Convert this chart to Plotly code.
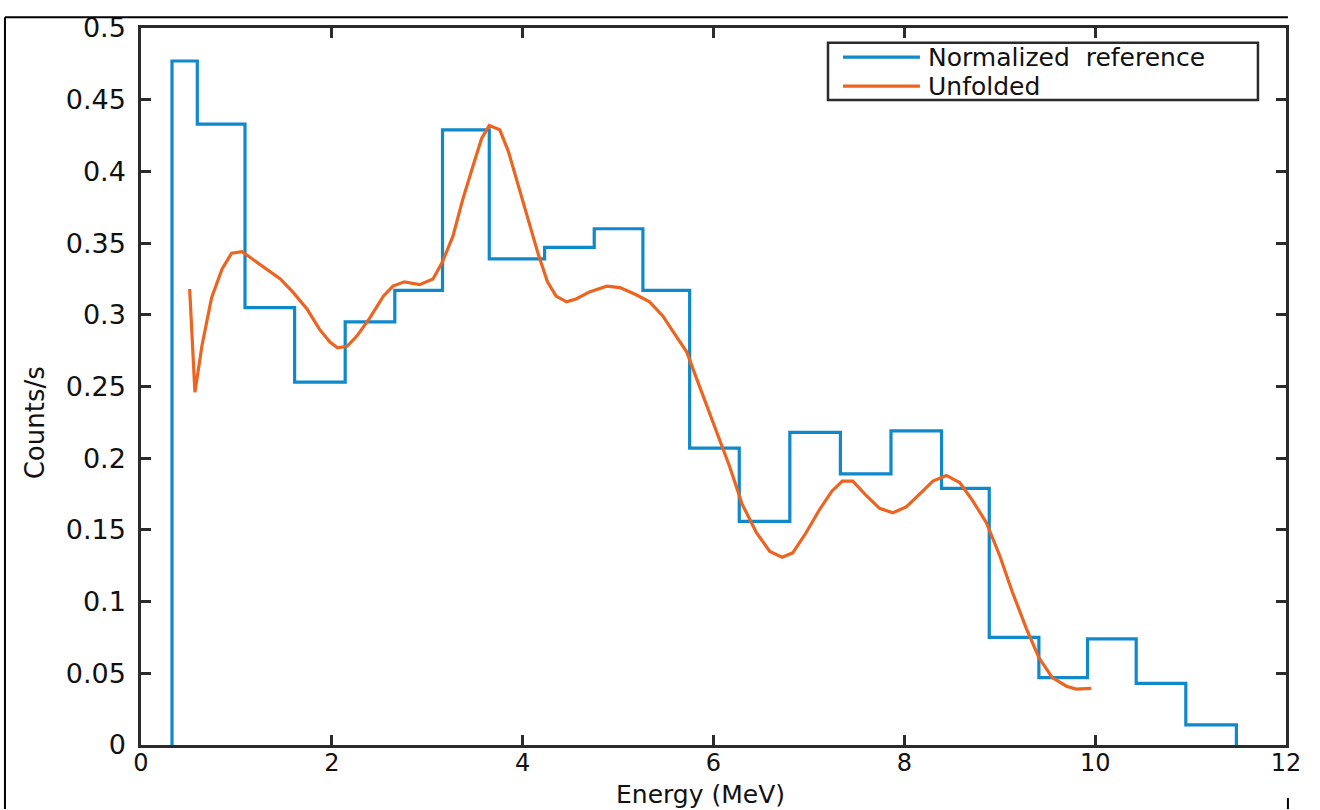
import plotly.graph_objects as go

# Normalized reference histogram (bin edges in MeV, bin values in counts/s)
ref_edges = [0.325, 0.59, 1.09, 1.61, 2.14, 2.66, 3.16, 3.65, 4.23, 4.75, 5.26, 5.75,
             6.27, 6.80, 7.33, 7.86, 8.39, 8.89, 9.41, 9.92, 10.43, 10.95, 11.48]
ref_values = [0.477, 0.433, 0.305, 0.253, 0.295, 0.317, 0.429, 0.339, 0.347, 0.360, 0.317,
              0.207, 0.156, 0.218, 0.189, 0.219, 0.179, 0.075, 0.047, 0.074, 0.043, 0.014]

# Unfolded spectrum
unf_energy = [0.51, 0.565, 0.64, 0.74, 0.85, 0.95, 1.06, 1.25, 1.46, 1.59, 1.74, 1.87, 1.98,
              2.06, 2.16, 2.26, 2.40, 2.54, 2.64, 2.76, 2.92, 3.06, 3.16, 3.27, 3.37, 3.48,
              3.57, 3.65, 3.76, 3.85, 3.95, 4.07, 4.16, 4.26, 4.35, 4.46, 4.56, 4.70, 4.88,
              5.02, 5.19, 5.33, 5.47, 5.61, 5.72, 5.82, 5.93, 6.03, 6.17, 6.30, 6.45, 6.59,
              6.72, 6.83, 6.97, 7.11, 7.24, 7.35, 7.46, 7.60, 7.74, 7.88, 8.02, 8.16, 8.30,
              8.44, 8.58, 8.71, 8.86, 9.00, 9.13, 9.28, 9.41, 9.55, 9.70, 9.80, 9.96]
unf_counts = [0.318, 0.246, 0.279, 0.312, 0.332, 0.343, 0.344, 0.335, 0.325, 0.316, 0.304,
              0.290, 0.281, 0.277, 0.278, 0.285, 0.298, 0.313, 0.320, 0.323, 0.321, 0.325,
              0.337, 0.355, 0.380, 0.404, 0.423, 0.432, 0.429, 0.414, 0.391, 0.363, 0.343,
              0.323, 0.313, 0.309, 0.311, 0.316, 0.320, 0.319, 0.314, 0.309, 0.299, 0.285,
              0.274, 0.256, 0.237, 0.219, 0.194, 0.168, 0.148, 0.135, 0.131, 0.134, 0.148,
              0.164, 0.177, 0.184, 0.184, 0.174, 0.165, 0.162, 0.166, 0.175, 0.184, 0.188,
              0.183, 0.171, 0.155, 0.132, 0.107, 0.081, 0.061, 0.047, 0.041, 0.039, 0.0395]

x_ticks = [0, 2, 4, 6, 8, 10, 12]
y_ticks = [0, 0.05, 0.1, 0.15, 0.2, 0.25, 0.3, 0.35, 0.4, 0.45, 0.5]
y_tick_text = ["0", "0.05", "0.1", "0.15", "0.2", "0.25", "0.3", "0.35", "0.4", "0.45", "0.5"]
series_names = ["Normalized\u00a0 reference", "Unfolded"]
x_title = "Energy (MeV)"
y_title = "Counts/s"

BLUE = "#1089CA"
ORANGE = "#EC6420"
AXC = "#2b2b2b"
FONT = "DejaVu Sans"

# step outline of the histogram
hx = [ref_edges[0]] + ref_edges
hy = [0] + ref_values + [0]

fig = go.Figure()
fig.add_trace(go.Scatter(x=hx, y=hy, mode="lines", line_shape="hv",
                         line=dict(color=BLUE, width=3.2), name=series_names[0],
                         showlegend=False))
fig.add_trace(go.Scatter(x=unf_energy, y=unf_counts, mode="lines",
                         line=dict(color=ORANGE, width=3.2), name=series_names[1],
                         showlegend=False))

axis_common = dict(showline=True, linecolor=AXC, linewidth=2.5, mirror="ticks",
                   ticks="inside", ticklen=10, tickwidth=2.5, tickcolor=AXC,
                   showgrid=False, zeroline=False)

fig.update_layout(
    width=1320, height=810,
    margin=dict(l=141, r=34, t=18, b=65),
    paper_bgcolor="white", plot_bgcolor="white",
    xaxis=dict(range=[0, 12], tickvals=x_ticks, ticktext=[str(v) for v in x_ticks],
               ticklabelstandoff=-6, tickfont=dict(family=FONT, size=24, color="#111"),
               **axis_common),
    yaxis=dict(range=[0, 0.5], tickvals=y_ticks, ticktext=y_tick_text,
               ticklabelstandoff=7, tickfont=dict(family=FONT, size=27, color="#111"),
               **axis_common),
    showlegend=False,
)

# axis titles
fig.add_annotation(text=x_title, xref="paper", yref="paper", x=0.489, y=-0.0688,
                   showarrow=False, xanchor="center", yanchor="middle",
                   font=dict(family=FONT, size=25, color="#111"))
fig.add_annotation(text=y_title, xref="paper", yref="paper", x=-0.0926, y=0.45,
                   textangle=-90, showarrow=False, xanchor="center", yanchor="middle",
                   font=dict(family=FONT, size=26, color="#111"))

# legend box
lx0, lx1, ly0, ly1 = 0.600, 0.9755, 0.8996, 0.9794
fig.add_shape(type="rect", xref="paper", yref="paper", x0=lx0, x1=lx1, y0=ly0, y1=ly1,
              line=dict(color=AXC, width=2.5), fillcolor="white", layer="above")
rows = [0.9594, 0.9188]
colors = [BLUE, ORANGE]
for name, yy, c in zip(series_names, rows, colors):
    fig.add_shape(type="line", xref="paper", yref="paper", x0=0.6131, x1=0.6803,
                  y0=yy, y1=yy, line=dict(color=c, width=3.2), layer="above")
    fig.add_annotation(text=name, xref="paper", yref="paper", x=0.6856, y=yy,
                       xanchor="left", yanchor="middle", showarrow=False,
                       font=dict(family=FONT, size=25, color="#111"))

# outer frame fragments of the figure image
fig.add_shape(type="line", xref="paper", yref="paper", x0=-0.1188, x1=1.0017,
              y0=1.0151, y1=1.0151, line=dict(color="black", width=2))
fig.add_shape(type="line", xref="paper", yref="paper", x0=-0.1188, x1=-0.1188,
              y0=1.0151, y1=-0.0894, line=dict(color="black", width=2))
fig.add_shape(type="line", xref="paper", yref="paper", x0=1.0017, x1=1.0017,
              y0=-0.0740, y1=-0.0894, line=dict(color="black", width=2))

fig.write_html("out.html")
